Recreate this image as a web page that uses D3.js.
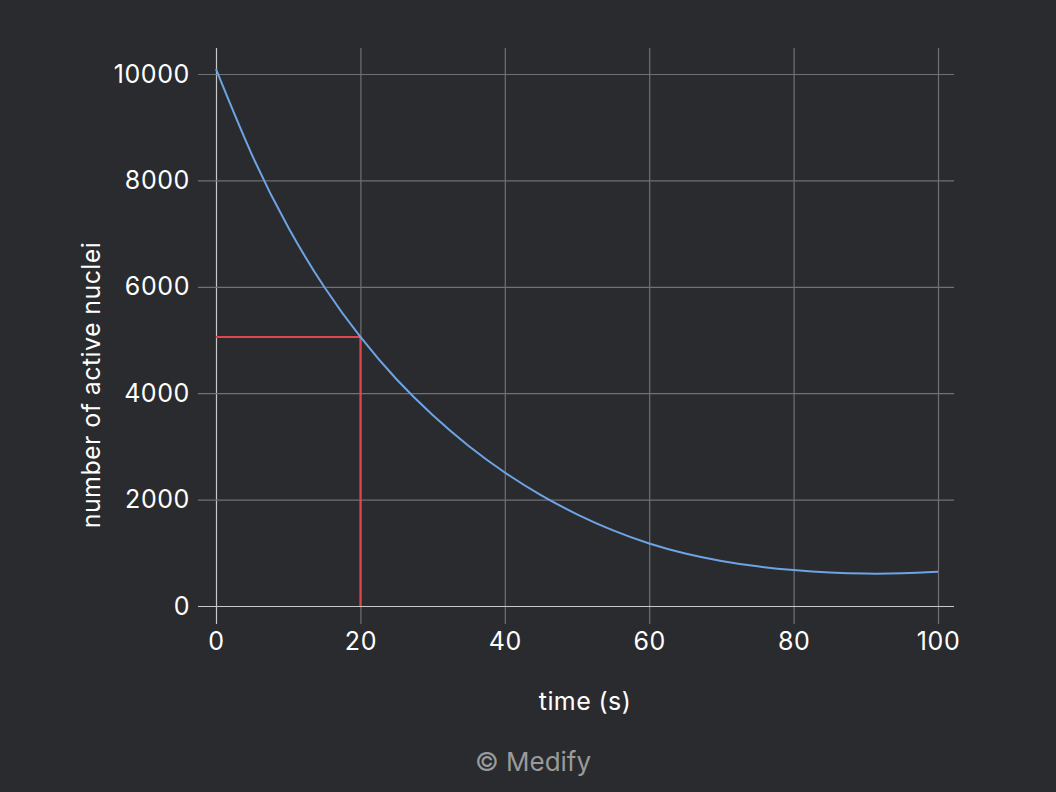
<!DOCTYPE html>
<html>
<head>
<meta charset="utf-8">
<script src="https://cdn.jsdelivr.net/npm/d3@7"></script>
<style>
  html, body { margin: 0; padding: 0; background: #2a2b2e; }
  svg text { font-family: Inter, "Noto Sans", sans-serif; }
</style>
</head>
<body>
<div id="app"></div>
<script>
// time (s) and number of active nuclei
const times  = [0, 5, 10, 15, 20, 25, 30, 35, 40, 45, 50, 55, 60, 65, 70, 75, 80, 85, 90, 95, 100];
const nuclei = [10090, 8475, 7120, 5995, 5057, 4262, 3590, 3008, 2510, 2084, 1724, 1422, 1176, 988, 847, 745, 675, 629, 609, 615, 645];

// half-life marker
const markerTime = 20;
const markerValue = 5057;

const xTicks = [0, 20, 40, 60, 80, 100];
const yTicks = [0, 2000, 4000, 6000, 8000, 10000];

const config = {
	width: 1056,
	height: 792,
	plot: { left: 216, right: 954, top: 48, bottom: 606 },
	color: {
		bg: "#2a2b2e",
		grid: "#707175",
		axis: "#c8c8c8",
		text: "#ffffff",
		line: "#6ea3e6",
		marker: "#e0474c",
		credit: "#9a9a9a"
	}
}

const svg = d3.select("#app").append("svg")
	.attr("width", config.width)
	.attr("height", config.height)

svg.append("rect")
	.attr("width", config.width)
	.attr("height", config.height)
	.attr("fill", config.color.bg)

const x = d3.scaleLinear().domain([0, 100]).range([216, 938])
const y = d3.scaleLinear().domain([0, 10000]).range([606, 74])

const p = config.plot

// vertical grid + x tick labels
const xAxis = svg.append("g")
	.attr("transform", `translate(0,${p.bottom + 18})`)
	.call(d3.axisBottom(x).tickValues(xTicks).tickSize(-(p.bottom + 18 - p.top)).tickSizeOuter(0).tickPadding(8))

xAxis.select(".domain").remove()
xAxis.selectAll(".tick line")
	.attr("stroke", d => d === 0 ? config.color.axis : config.color.grid)
	.attr("stroke-width", 1.2)
xAxis.selectAll(".tick text")
	.attr("fill", config.color.text)
	.attr("font-size", 25)
	.attr("letter-spacing", 0.6)

// horizontal grid + y tick labels
const yAxis = svg.append("g")
	.attr("transform", `translate(${p.left - 18},0)`)
	.call(d3.axisLeft(y).tickValues(yTicks).tickFormat(d3.format("d")).tickSize(-(p.right - p.left + 18)).tickSizeOuter(0).tickPadding(8))

yAxis.select(".domain").remove()
yAxis.selectAll(".tick line")
	.attr("stroke", d => d === 0 ? config.color.axis : config.color.grid)
	.attr("stroke-width", 1.2)
yAxis.selectAll(".tick text")
	.attr("fill", config.color.text)
	.attr("font-size", 25)
	.attr("letter-spacing", 0.6)

// keep the zero axes on top of the grid
xAxis.selectAll(".tick").filter(d => d === 0).raise()
yAxis.selectAll(".tick").filter(d => d === 0).raise()

// half-life marker lines
svg.append("path")
	.attr("d", d3.line()([[x(0), y(markerValue)], [x(markerTime), y(markerValue)], [x(markerTime), y(0)]]))
	.attr("fill", "none")
	.attr("stroke", config.color.marker)
	.attr("stroke-width", 2)

// decay curve
svg.append("path")
	.datum(times.map((t, i) => [t, nuclei[i]]))
	.attr("d", d3.line().x(d => x(d[0])).y(d => y(d[1])).curve(d3.curveNatural))
	.attr("fill", "none")
	.attr("stroke", config.color.line)
	.attr("stroke-width", 2)

// axis titles
svg.append("text")
	.attr("x", (p.left + p.right) / 2)
	.attr("y", 710)
	.attr("text-anchor", "middle")
	.attr("fill", config.color.text)
	.attr("font-size", 25)
	.attr("letter-spacing", 0.4)
	.text("time (s)")

svg.append("text")
	.attr("transform", `translate(100,385) rotate(-90)`)
	.attr("text-anchor", "middle")
	.attr("fill", config.color.text)
	.attr("font-size", 25)
	.attr("letter-spacing", 0.4)
	.text("number of active nuclei")

svg.append("text")
	.attr("x", 533)
	.attr("y", 771)
	.attr("text-anchor", "middle")
	.attr("fill", config.color.credit)
	.attr("font-size", 26)
	.text("© Medify")
</script>
</body>
</html>
